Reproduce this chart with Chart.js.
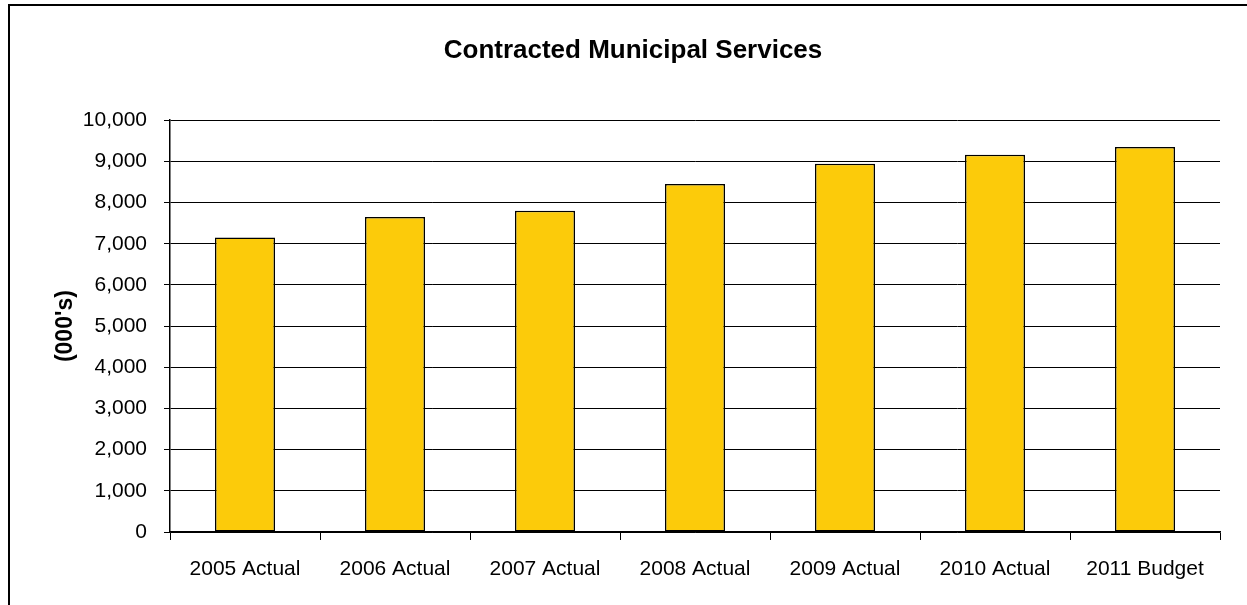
<!DOCTYPE html>
<html>
<head>
<meta charset="utf-8">
<title>Contracted Municipal Services</title>
<script src="https://cdn.jsdelivr.net/npm/chart.js@4.4.1/dist/chart.umd.min.js"></script>
<style>
  html, body { margin: 0; padding: 0; background: #fff; }
  canvas { display: block; }
</style>
</head>
<body>
<canvas id="servicesChart" width="1247" height="605"></canvas>
<script>
// Contracted municipal services, in thousands of dollars
const years = ['2005 Actual', '2006 Actual', '2007 Actual', '2008 Actual', '2009 Actual', '2010 Actual', '2011 Budget'];
const amounts = [7150, 7650, 7800, 8450, 8940, 9160, 9350];
const yTicks = [0, 1000, 2000, 3000, 4000, 5000, 6000, 7000, 8000, 9000, 10000];

const FONT = "'Liberation Sans', Arial, sans-serif";

// frame around the whole chart (left and top edges are inside the canvas)
const framePlugin = {
  id: 'frame',
  afterDraw(chart) {
    const ctx = chart.ctx;
    ctx.save();
    ctx.fillStyle = '#000';
    ctx.fillRect(8, 4, 2, chart.height - 4);
    ctx.fillRect(8, 4, chart.width - 8, 2);
    ctx.restore();
  }
};

document.addEventListener('DOMContentLoaded', () => {
  const ctx = document.getElementById('servicesChart').getContext('2d');

  new Chart(ctx, {
    type: 'bar',
    data: {
      labels: years,
      datasets: [{
        data: amounts,
        backgroundColor: '#FCCB0A',
        borderColor: '#000',
        borderWidth: 1.5,
        borderSkipped: false,
        barPercentage: 0.4,
        categoryPercentage: 1.0
      }]
    },
    options: {
      responsive: false,
      animation: false,
      // left padding keeps the title centred over the frame
      layout: { padding: { left: 46, right: 27, top: 0, bottom: 0 } },
      plugins: {
        legend: { display: false },
        tooltip: { enabled: false },
        title: {
          display: true,
          text: 'Contracted Municipal Services',
          color: '#000',
          font: { family: FONT, size: 26, weight: 'bold' },
          padding: { top: 35, bottom: 54 }
        }
      },
      scales: {
        x: {
          grid: {
            offset: true,
            drawOnChartArea: false,
            color: '#000',
            tickLength: 8
          },
          border: { color: '#000', width: 1.5 },
          ticks: {
            color: '#000',
            font: { family: FONT, size: 21 },
            padding: 17,
            maxRotation: 0
          },
          afterFit(scale) { scale.height = 73; }
        },
        y: {
          min: 0,
          max: 10000,
          afterBuildTicks(scale) {
            scale.ticks = yTicks.map(v => ({ value: v }));
          },
          grid: { color: '#000', lineWidth: 1, tickLength: 6 },
          border: { color: '#000', width: 1.5 },
          ticks: {
            color: '#000',
            font: { family: FONT, size: 21 },
            padding: 17,
            callback: v => v.toLocaleString('en-US')
          },
          title: {
            display: true,
            text: "(000's)",
            color: '#000',
            font: { family: FONT, size: 23, weight: 'bold' },
            padding: { top: 6, bottom: 0 }
          },
          afterFit(scale) { scale.width = 124; }
        }
      }
    },
    plugins: [framePlugin]
  });
});
</script>
</body>
</html>
